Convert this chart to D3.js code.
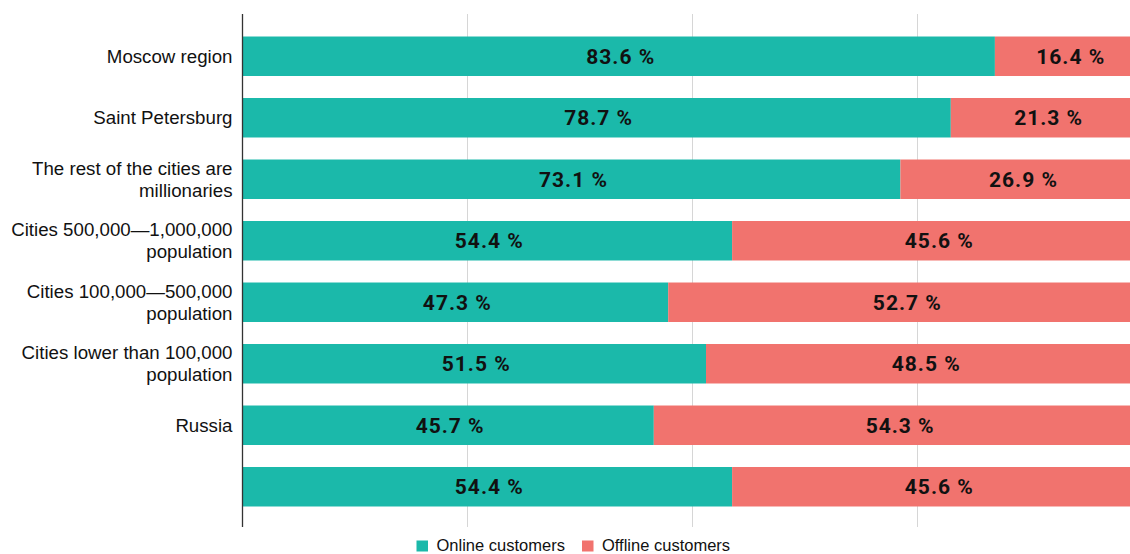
<!DOCTYPE html>
<html><head><meta charset="utf-8">
<script src="https://cdn.jsdelivr.net/npm/d3@7"></script>
<style>body{margin:0;background:#fff;}svg{display:block;}</style>
</head><body><svg id="c" width="1130" height="554"></svg>
<script>
const categories = [
  ["Moscow region"],
  ["Saint Petersburg"],
  ["The rest of the cities are", "millionaries"],
  ["Cities 500,000\u20141,000,000", "population"],
  ["Cities 100,000\u2014500,000", "population"],
  ["Cities lower than 100,000", "population"],
  ["Russia"],
  [""]
];
const online = [83.6, 78.7, 73.1, 54.4, 47.3, 51.5, 45.7, 54.4];
const offline = [16.4, 21.3, 26.9, 45.6, 52.7, 48.5, 54.3, 45.6];
const seriesNames = ["Online customers", "Offline customers"];
const gridTicks = [25, 50, 75, 100];

const colors = ["#1bb9aa", "#f1736e"];
const svg = d3.select("#c");
const x = d3.scaleLinear().domain([0, 100]).range([242.5, 1142.5]);
const idx = d3.range(categories.length);
const y = d3.scaleBand().domain(idx).range([25.5, 517.5]).paddingInner(0.358).paddingOuter(0.179);

// gridlines
svg.append("g").selectAll("line").data(gridTicks).join("line")
  .attr("x1", d => x(d)).attr("x2", d => x(d))
  .attr("y1", 14).attr("y2", 527)
  .attr("stroke", "#d6d6d6").attr("stroke-width", 1);

const stack = idx.map(i => [
  {s: 0, x0: 0, x1: online[i], v: online[i], i},
  {s: 1, x0: online[i], x1: online[i] + offline[i], v: offline[i], i}
]).flat();

svg.append("g").selectAll("rect").data(stack).join("rect")
  .attr("x", d => x(d.x0)).attr("width", d => x(d.x1) - x(d.x0))
  .attr("y", d => y(d.i)).attr("height", y.bandwidth())
  .attr("fill", d => colors[d.s]);

svg.append("g").selectAll("text").data(stack).join("text")
  .attr("x", d => (x(d.x0) + x(d.x1)) / 2 + 2)
  .attr("y", d => y(d.i) + y.bandwidth() / 2)
  .attr("dy", "0.36em")
  .attr("text-anchor", "middle")
  .attr("font-family", "Roboto, sans-serif").attr("font-weight", 700)
  .attr("font-size", 21).attr("letter-spacing", "1px").attr("fill", "#111")
  .text(d => d.v.toFixed(1) + " %");

// axis line
svg.append("line").attr("x1", 242.5).attr("x2", 242.5).attr("y1", 14).attr("y2", 527)
  .attr("stroke", "#333").attr("stroke-width", 1.3);

// category labels
const lab = svg.append("g").selectAll("text").data(idx).join("text")
  .attr("text-anchor", "end")
  .attr("font-family", "'Liberation Sans', Arial, sans-serif")
  .attr("font-size", 18.7).attr("fill", "#111")
  .attr("transform", i => `translate(232.5,${y(i) + y.bandwidth() / 2})`);
lab.each(function(i) {
  const lines = categories[i];
  const n = lines.length;
  d3.select(this).selectAll("tspan").data(lines).join("tspan")
    .attr("x", 0)
    .attr("y", (d, k) => (k - (n - 1) / 2) * 22)
    .attr("dy", "0.35em")
    .text(d => d);
});

// legend
const legX = [416.5, 582];
const lg = svg.append("g").selectAll("g").data(seriesNames).join("g")
  .attr("transform", (d, k) => `translate(${legX[k]},540.5)`);
lg.append("rect").attr("width", 11.5).attr("height", 11).attr("fill", (d, k) => colors[k]);
lg.append("text").attr("x", 20).attr("y", 10.5)
  .attr("font-family", "'Liberation Sans', Arial, sans-serif")
  .attr("font-size", 16.5).attr("fill", "#111").text(d => d);
</script>
</body></html>
